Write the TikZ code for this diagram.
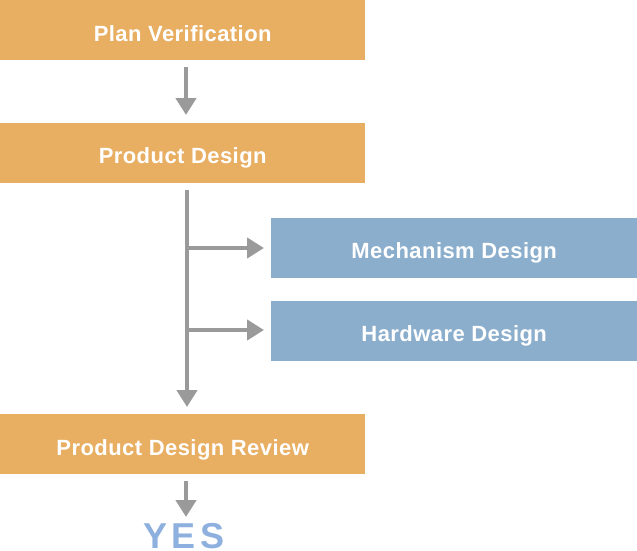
\documentclass[tikz,border=0pt]{standalone}
\usepackage{fontspec}
\setmainfont{Liberation Sans}
\newfontfamily\boxfont[LetterSpace=2]{Liberation Sans Bold}
\newfontfamily\yesfont[LetterSpace=12]{Liberation Sans Bold}
\usetikzlibrary{arrows.meta}
\definecolor{orangebox}{HTML}{E8AE62}
\definecolor{bluebox}{HTML}{8BAECD}
\definecolor{arrowgray}{HTML}{9A9A9A}
\definecolor{yesblue}{HTML}{8EB0DE}
\begin{document}
\begin{tikzpicture}[x=1pt,y=-1pt,
  basebox/.style={draw=none, minimum height=60pt, inner sep=0pt, text height=41pt, text depth=19pt, anchor=north west, text=white, font=\boxfont\fontsize{22}{24}\selectfont},
  obox/.style={basebox, fill=orangebox, minimum width=365pt},
  bbox/.style={basebox, fill=bluebox, minimum width=366pt},
  garrow/.style={draw=arrowgray, line width=4.5pt, -{Triangle[width=20pt,length=17pt]}}
]
\useasboundingbox (0,0) rectangle (637,550);
\node[obox] (pv) at (0,0) {Plan Verification};
\node[obox] (pd) at (0,122.5) {Product Design};
\node[bbox] (md) at (271,217.5) {Mechanism Design};
\node[bbox] (hd) at (271,300.5) {Hardware Design};
\node[obox] (pdr) at (0,414) {Product Design Review};
\node[text=yesblue, font=\yesfont\fontsize{36}{38}\selectfont, anchor=base, inner sep=0pt] (yes) at (184,548.5) {YES};
\coordinate (a1s) at (186,67);
\coordinate (a1e) at (186,115);
\draw[garrow] (a1s) -- (a1e);
\coordinate (vs) at (187,190);
\coordinate (ve) at (187,407);
\draw[garrow] (vs) -- (ve);
\coordinate (b1) at (187,248);
\coordinate (b1e) at (264,248);
\coordinate (b2) at (187,330);
\coordinate (b2e) at (264,330);
\draw[garrow] (b1) -- (b1e);
\draw[garrow] (b2) -- (b2e);
\coordinate (a3s) at (186,481);
\coordinate (a3e) at (186,517);
\draw[garrow] (a3s) -- (a3e);
\end{tikzpicture}
\end{document}
